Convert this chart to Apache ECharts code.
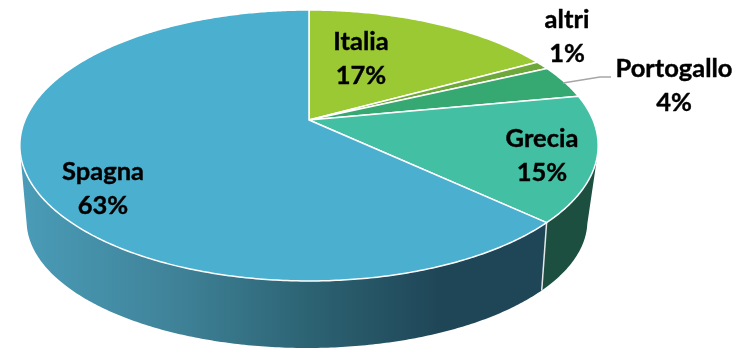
<!DOCTYPE html>
<html>
<head>
<meta charset="utf-8">
<style>html,body{margin:0;padding:0;background:#fff}#chart{width:744px;height:349px}</style>
<script src="https://cdn.jsdelivr.net/npm/echarts@6/dist/echarts.min.js"></script>
</head>
<body>
<div id="chart"></div>
<script>
// Market shares, clockwise from twelve o'clock
const countries = ['Italia', 'altri', 'Portogallo', 'Grecia', 'Spagna'];
const shares = [17, 1, 4, 15, 63];

const topColors = ['#9BC934', '#6FA83A', '#36A872', '#43BFA3', '#4BB0CF'];
const labelAnchors = [[361, 59], [567, 37], [674, 86], [542, 156], [103, 189]];

// Projected discs: the near half of each circle appears larger than the far half
const upperDisc = { cx: 309, cy: 120, a: 284, b: 130.7, k: -0.188 };
const lowerDisc = { cx: 307, cy: 193, a: 273.5, b: 120.9, k: -0.22 };

function project(disc, angle) {
  const u = Math.sin(angle), v = -Math.cos(angle);
  const d = 1 + disc.k * v;
  return [disc.cx + disc.a * u / d, disc.cy + disc.b * v / d];
}
function arc(disc, from, to) {
  const n = Math.max(2, Math.ceil(Math.abs(to - from) / 0.01));
  const pts = [];
  for (let i = 0; i <= n; i++) pts.push(project(disc, from + (to - from) * i / n));
  return pts;
}

const total = shares.reduce((s, v) => s + v, 0);
const bounds = [0];
shares.forEach(v => bounds.push(bounds[bounds.length - 1] + v / total * Math.PI * 2));

// Only this part of the rim faces the viewer
const frontStart = 104 * Math.PI / 180;
const frontEnd = 256 * Math.PI / 180;

const wallFills = [null, null, null, '#1C4F40', {
  type: 'linear', x: 20, y: 0, x2: 545, y2: 0, global: true,
  colorStops: [
    { offset: 0, color: '#4A9CB8' },
    { offset: 0.3, color: '#3F8298' },
    { offset: 0.55, color: '#2C6373' },
    { offset: 0.8, color: '#1F4657' },
    { offset: 1, color: '#1F4657' }
  ]
}];

function renderWall(params) {
  const i = params.dataIndex;
  const from = Math.max(bounds[i], frontStart);
  const to = Math.min(bounds[i + 1], frontEnd);
  if (to <= from) return null;
  const points = arc(upperDisc, from, to).concat(arc(lowerDisc, to, from));
  const children = [{ type: 'polygon', shape: { points }, style: { fill: wallFills[i] } }];
  if (bounds[i] >= frontStart) {
    const s = project(upperDisc, bounds[i]), e = project(lowerDisc, bounds[i]);
    children.push({
      type: 'line',
      shape: { x1: s[0], y1: s[1], x2: e[0], y2: e[1] },
      style: { stroke: '#E4E8E8', lineWidth: 1.5 }
    });
  }
  return { type: 'group', children };
}

function renderTop(params) {
  const i = params.dataIndex;
  const points = [[upperDisc.cx, upperDisc.cy]].concat(arc(upperDisc, bounds[i], bounds[i + 1]));
  return {
    type: 'polygon',
    shape: { points },
    style: { fill: topColors[i], stroke: '#fff', lineWidth: 1.5, lineJoin: 'round' }
  };
}

function renderLabel(params) {
  const i = params.dataIndex;
  const a = labelAnchors[i];
  const children = [{
    type: 'text',
    x: a[0], y: a[1],
    style: {
      text: countries[i] + '\n' + shares[i] + '%',
      font: 'bold 25.5px Lato',
      lineHeight: 34,
      fill: '#000',
      stroke: '#000',
      lineWidth: 0.4,
      align: 'center',
      verticalAlign: 'middle'
    }
  }];
  if (countries[i] === 'Portogallo') {
    children.push({
      type: 'polyline',
      shape: { points: [[563, 83], [600, 77], [611, 77]] },
      style: { stroke: '#A6A6A6', lineWidth: 1.5, fill: 'none' }
    });
  }
  return { type: 'group', children };
}

const rows = countries.map((name, i) => ({ name, value: shares[i] }));
const layer = (renderItem, z) => ({
  type: 'custom', coordinateSystem: 'none', data: rows, renderItem, z,
  silent: true, clip: false, animation: false
});

const chart = echarts.init(document.getElementById('chart'), null, { renderer: 'canvas' });
chart.setOption({
  backgroundColor: '#fff',
  animation: false,
  series: [layer(renderWall, 1), layer(renderTop, 2), layer(renderLabel, 3)]
});
</script>
</body>
</html>
